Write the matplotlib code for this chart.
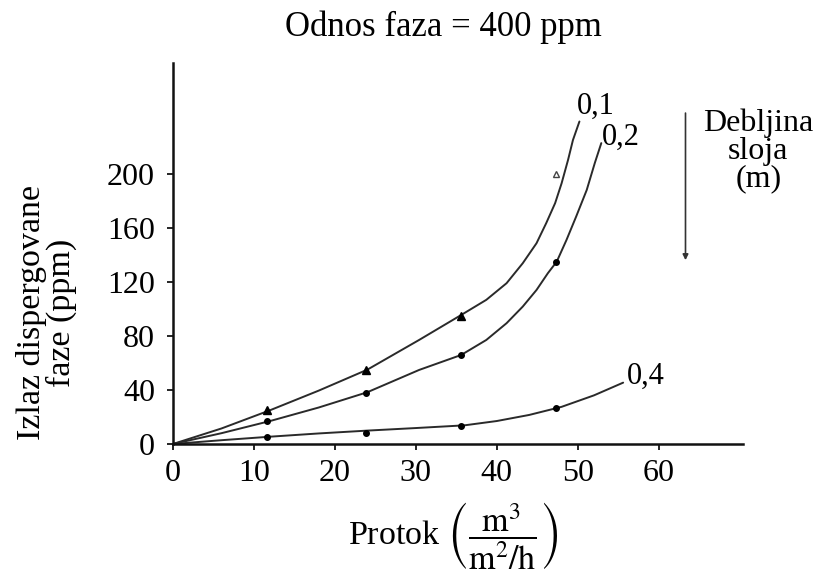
import matplotlib
matplotlib.use("Agg")
import matplotlib.pyplot as plt

plt.rcParams['font.family'] = ['Liberation Serif', 'DejaVu Serif']
plt.rcParams['mathtext.fontset'] = 'stix'

# curves (hand-drawn fits), x = protok, y = ppm
curve_01_x = [0, 6, 12, 18, 24, 30.4, 35.6, 38.7, 41.2, 43.2, 44.9, 46.1, 47.2, 48.0, 48.8, 49.4, 50.2]
curve_01_y = [0, 11.5, 25, 39.5, 55, 77, 95.5, 106.7, 119, 133.8, 148.6, 163.5, 178.3, 193, 210.4, 225, 238.7]
curve_02_x = [0, 6, 12, 18, 24, 30.4, 35.6, 38.7, 41.2, 43.2, 44.9, 46.3, 47.4, 48.6, 49.8, 51.1, 52.1, 52.9]
curve_02_y = [0, 8, 17, 27, 38.3, 54.8, 65.9, 77, 89.4, 101.7, 114, 126.4, 135, 151, 168.4, 188, 208, 222.7]
curve_04_x = [0, 6, 12, 18, 24, 30, 36, 40, 44, 48, 52, 55.6]
curve_04_y = [0, 2.8, 5.4, 7.8, 9.9, 11.8, 13.8, 17, 21.5, 27.5, 36, 45.4]

# measured points (positions as they sit in the picture)
pts_x = [11.6, 23.8, 35.6, 47.3]
pts_01 = [25, 55, 95]
pts_01_open = [200]
pts_02 = [17, 38, 66, 135]
pts_04 = [5, 8, 13, 27]

curve_labels = ['0,1', '0,2', '0,4']

fig = plt.figure(figsize=(8.26, 5.76), dpi=100)
ax = fig.add_axes([0.2094, 0.2292, 0.6901, 0.6614])

lc = '#2a2a2a'
for cx, cy in [(curve_01_x, curve_01_y), (curve_02_x, curve_02_y), (curve_04_x, curve_04_y)]:
    ax.plot(cx, cy, color=lc, lw=1.4, solid_joinstyle='round', solid_capstyle='round')

ax.plot(pts_x[:3], pts_01, '^', color='black', ms=5.5)
ax.plot(pts_x[3:], pts_01_open, '^', mfc='white', mec='#444444', ms=5, mew=1)
ax.plot(pts_x, pts_02, 'o', color='black', ms=4)
ax.plot(pts_x, pts_04, 'o', color='black', ms=4)

# curve labels
ax.text(49.9, 250, curve_labels[0], fontsize=22, ha='left', va='center')
ax.text(53.0, 227, curve_labels[1], fontsize=22, ha='left', va='center')
ax.text(56.0, 50, curve_labels[2], fontsize=22, ha='left', va='center')

# arrow for layer thickness
ax.annotate('', xy=(63.3, 134), xytext=(63.3, 247),
            arrowprops=dict(arrowstyle='-|>', color='#333333', lw=1.2,
                            mutation_scale=8), annotation_clip=False)
ax.text(72.3, 248, 'Debljina\nsloja\n(m)', fontsize=23, ha='center', va='top',
        linespacing=0.93, clip_on=False)

ax.set_xlim(0, 70.4)
ax.set_ylim(0, 282)
ax.set_xticks([0, 10, 20, 30, 40, 50, 60])
ax.set_yticks([0, 40, 80, 120, 160, 200])
ax.tick_params(labelsize=23, length=4, width=1.2, direction='out')
ax.tick_params(axis='y', pad=9)
ax.tick_params(axis='x', pad=7)

for s in ['top', 'right']:
    ax.spines[s].set_visible(False)
for s in ['left', 'bottom']:
    ax.spines[s].set_linewidth(1.8)
    ax.spines[s].set_color('#111111')

fig.text(0.537, 0.952, 'Odnos faza = 400 ppm', fontsize=25, ha='center', va='center')
fig.text(0.056, 0.457, 'Izlaz dispergovane\nfaze (ppm)', fontsize=24.5, ha='center',
         va='center', rotation=90, linespacing=0.95)
fig.text(0.548, 0.07,
         r'Protok $\left(\dfrac{\mathrm{m}^3}{\mathrm{m}^2/\mathrm{h}}\right)$',
         fontsize=24.5, ha='center', va='center')

fig.savefig('out.png', dpi=100)
